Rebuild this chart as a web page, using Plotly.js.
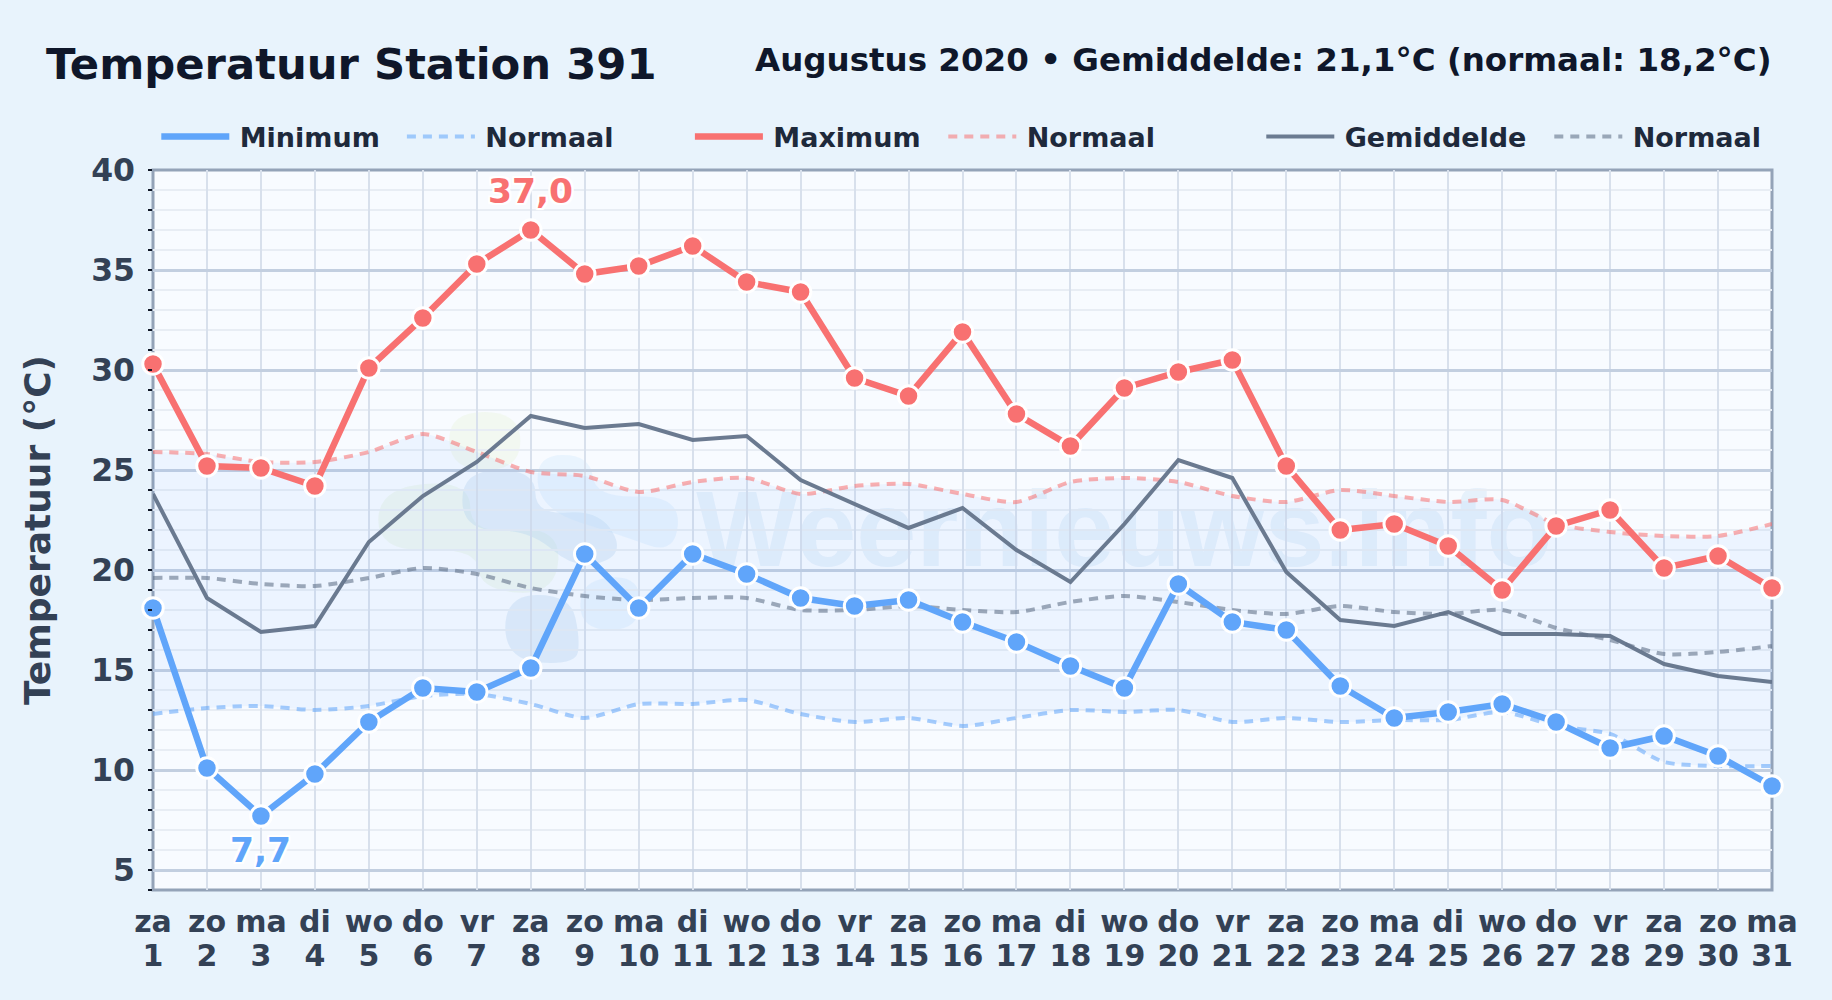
<!DOCTYPE html>
<html>
<head>
<meta charset="utf-8">
<script src="https://cdn.plot.ly/plotly-3.0.1.min.js"></script>
<style>html,body{margin:0;padding:0;background:#e8f3fc}</style>
</head>
<body>
<div id="chart" style="width:1832px;height:1000px"></div>
<script>
const days = [1,2,3,4,5,6,7,8,9,10,11,12,13,14,15,16,17,18,19,20,21,22,23,24,25,26,27,28,29,30,31];
const weekdays = ["za","zo","ma","di","wo","do","vr","za","zo","ma","di","wo","do","vr","za","zo","ma","di","wo","do","vr","za","zo","ma","di","wo","do","vr","za","zo","ma"];
const tempMax = [30.3,25.2,25.1,24.2,30.1,32.6,35.3,37.0,34.8,35.2,36.2,34.4,33.9,29.6,28.7,31.9,27.8,26.2,29.1,29.9,30.5,25.2,22.0,22.3,21.2,19.0,22.2,23.0,20.1,20.7,19.1];
const tempMin = [18.1,10.1,7.7,9.8,12.4,14.1,13.9,15.1,20.8,18.1,20.8,19.8,18.6,18.2,18.5,17.4,16.4,15.2,14.1,19.3,17.4,17.0,14.2,12.6,12.9,13.3,12.4,11.1,11.7,10.7,9.2];
const tempMean = [23.8,18.6,16.9,17.2,21.4,23.7,25.4,27.7,27.1,27.3,26.5,26.7,24.5,23.3,22.1,23.1,21.0,19.4,22.3,25.5,24.6,19.9,17.5,17.2,17.9,16.8,16.8,16.7,15.3,14.7,14.4];
const normMax = [25.9,25.8,25.4,25.4,25.9,26.8,25.9,24.9,24.7,23.9,24.4,24.6,23.8,24.2,24.3,23.8,23.4,24.4,24.6,24.4,23.7,23.4,24.0,23.7,23.4,23.5,22.3,21.9,21.7,21.7,22.3];
const normMean = [19.6,19.6,19.3,19.2,19.6,20.1,19.8,19.1,18.7,18.5,18.6,18.6,18.0,18.0,18.2,18.0,17.9,18.4,18.7,18.4,18.0,17.8,18.2,17.9,17.8,18.0,17.1,16.5,15.8,15.9,16.2];
const normMin = [12.8,13.1,13.2,13.0,13.2,13.7,13.8,13.3,12.6,13.3,13.3,13.5,12.8,12.4,12.6,12.2,12.6,13.0,12.9,13.0,12.4,12.6,12.4,12.5,12.5,12.9,12.2,11.8,10.4,10.2,10.2];
const yTicks = [5,10,15,20,25,30,35,40];
const titleText = "Temperatuur Station 391";
const subtitleText = "Augustus 2020 • Gemiddelde: 21,1°C (normaal: 18,2°C)";
const yTitleText = "Temperatuur (°C)";
const watermarkText = "Weernieuws.info";

const FONT = "DejaVu Sans";
const L = 152.7, T = 170, W = 1619, H = 720;
const px = x => (x - L) / W;
const py = y => (T + H - y) / H;

function blob(points, color) {
  const mids = points.map((p, i) => {
    const q = points[(i + 1) % points.length];
    return [(p[0] + q[0]) / 2, (p[1] + q[1]) / 2];
  });
  let d = "M" + px(mids[mids.length - 1][0]) + "," + py(mids[mids.length - 1][1]);
  points.forEach((p, i) => {
    d += " Q" + px(p[0]) + "," + py(p[1]) + " " + px(mids[i][0]) + "," + py(mids[i][1]);
  });
  return {type: "path", xref: "paper", yref: "paper", path: d + " Z", fillcolor: color, line: {width: 0}, layer: "below"};
}

const green = "rgba(214,236,205,0.28)";
const blueDark = "rgba(190,215,240,0.38)";
const blueLight = "rgba(200,228,252,0.3)";

const shapes = [
  blob([[448,412],[520,412],[520,470],[450,470]], "rgba(226,240,205,0.28)"),
  blob([[378,488],[470,480],[470,535],[560,525],[556,595],[480,590],[476,548],[378,552]], green),
  blob([[462,470],[535,470],[535,515],[600,510],[625,555],[575,570],[530,530],[462,530]], blueDark),
  blob([[535,455],[590,455],[595,498],[680,495],[675,555],[620,535],[540,510]], blueLight),
  blob([[505,595],[570,595],[580,640],[575,665],[505,660]], blueDark),
  blob([[580,580],[640,575],[640,630],[580,630]], blueLight),
  {type: "rect", xref: "paper", yref: "paper", x0: px(700), x1: px(1548), y0: py(583), y1: py(453),
   line: {width: 0}, fillcolor: "rgba(0,0,0,0)", layer: "below",
   label: {text: watermarkText, textposition: "middle center",
           font: {family: "Liberation Sans", size: 108, color: "rgba(170,205,238,0.22)", weight: "bold"}}},
  {type: "rect", xref: "paper", yref: "paper", x0: 0, x1: 1, y0: 0, y1: 1, layer: "between",
   line: {color: "#94a3b8", width: 3}, fillcolor: "rgba(0,0,0,0)"}
];

function lineTrace(name, y, color, width, legend, dash, shape, opacity) {
  return {x: days, y: y, name: "\u2009" + name, type: "scatter", mode: "lines", cliponaxis: false,
          legend: legend, hoverinfo: "skip", opacity: opacity,
          line: {color: color, width: width, dash: dash, shape: shape, smoothing: 0.7}};
}
function markerTrace(y, color) {
  return {x: days, y: y, type: "scatter", mode: "markers", showlegend: false, cliponaxis: false, hoverinfo: "skip",
          marker: {color: color, size: 20.5, line: {color: "#ffffff", width: 3}}};
}

const DASH = "9px,7px";
const traces = [
  {x: days, y: normMax, type: "scatter", mode: "lines", showlegend: false, hoverinfo: "skip",
   line: {width: 0, shape: "spline", smoothing: 0.7}},
  {x: days, y: normMin, type: "scatter", mode: "lines", showlegend: false, hoverinfo: "skip",
   fill: "tonexty", fillcolor: "rgba(96,165,250,0.08)", line: {width: 0, shape: "spline", smoothing: 0.7}},
  lineTrace("Normaal", normMin, "#60a5fa", 4, "legend2", DASH, "spline", 0.55),
  lineTrace("Normaal", normMax, "#f87171", 4, "legend4", DASH, "spline", 0.55),
  lineTrace("Normaal", normMean, "#64748b", 4, "legend6", DASH, "spline", 0.6),
  lineTrace("Gemiddelde", tempMean, "#64748b", 4, "legend5", "solid", "linear", 0.95),
  lineTrace("Maximum", tempMax, "#f87171", 6.5, "legend3", "solid", "linear", 1),
  lineTrace("Minimum", tempMin, "#60a5fa", 6.5, "legend", "solid", "linear", 1),
  markerTrace(tempMax, "#f87171"),
  markerTrace(tempMin, "#60a5fa"),
  {x: days, y: normMean, xaxis: "x2", type: "scatter", mode: "lines", showlegend: false, hoverinfo: "skip",
   opacity: 0, line: {width: 0}}
];

function legendAt(xpx) {
  return {x: px(xpx), y: py(137), xanchor: "left", yanchor: "middle", orientation: "h",
          bgcolor: "rgba(0,0,0,0)", borderwidth: 0, itemwidth: 68,
          font: {family: FONT, size: 27, color: "#1e293b", weight: "bold"}};
}

const iMax = tempMax.indexOf(Math.max(...tempMax));
const iMin = tempMin.indexOf(Math.min(...tempMin));
const halo = "2px 0 1px #fff, -2px 0 1px #fff, 0 2px 1px #fff, 0 -2px 1px #fff, 2px 2px 1px #fff, -2px -2px 1px #fff, 2px -2px 1px #fff, -2px 2px 1px #fff";
const tickFontX = {family: FONT, size: 30, color: "#334155", weight: "bold"};

const layout = {
  width: 1832, height: 1000,
  paper_bgcolor: "#e8f3fc", plot_bgcolor: "#f8fbff",
  margin: {l: L, r: 1832 - L - W, t: T, b: 1000 - T - H, pad: 0},
  font: {family: FONT},
  title: {text: titleText, x: 46 / 1832, xanchor: "left", xref: "container", y: 1 - 64 / 1000, yanchor: "middle",
          font: {family: FONT, size: 43.3, color: "#0f172a", weight: "bold"}},
  xaxis: {range: [1, 31], tickvals: days, ticktext: weekdays,
          tickfont: tickFontX, tickangle: 0,
          showgrid: true, gridcolor: "#d8e0ec", gridwidth: 2, zeroline: false,
          showline: false, ticks: "", ticklabelstandoff: 11},
  xaxis2: {range: [1, 31], overlaying: "x", side: "bottom", anchor: "y", tickvals: days, ticktext: days.map(String),
           tickfont: tickFontX, tickangle: 0, showgrid: false, zeroline: false, showline: false, ticks: "",
           ticklabelstandoff: 45},
  yaxis: {range: [4, 40], tickvals: yTicks,
          tickfont: {family: FONT, size: 31.5, color: "#334155", weight: "bold"},
          showgrid: true, gridcolor: "#c3cfe0", gridwidth: 2.5, zeroline: false,
          showline: false, ticks: "", ticklabelstandoff: 17,
          minor: {dtick: 1, tick0: 0, ticks: "outside", ticklen: 4, tickwidth: 1.5, tickcolor: "#111827",
                  showgrid: true, gridcolor: "#e8edf4", gridwidth: 2},
          title: {text: yTitleText, standoff: 29, font: {family: FONT, size: 36, color: "#334155", weight: "bold"}}},
  legend: legendAt(156), legend2: legendAt(401.6), legend3: legendAt(689.6),
  legend4: legendAt(943), legend5: legendAt(1261), legend6: legendAt(1549),
  shapes: shapes,
  annotations: [
    {xref: "paper", yref: "paper", x: 1, y: py(60), xanchor: "right", yanchor: "middle", showarrow: false, xshift: 2,
     text: subtitleText, font: {family: FONT, size: 32.5, color: "#0f172a", weight: "bold"}},
    {x: days[iMax], y: tempMax[iMax], yshift: 39, showarrow: false, text: tempMax[iMax].toFixed(1).replace(".", ","),
     font: {family: FONT, size: 34.5, color: "#f87171", weight: "bold", shadow: halo}},
    {x: days[iMin], y: tempMin[iMin], yshift: -34, showarrow: false, text: tempMin[iMin].toFixed(1).replace(".", ","),
     font: {family: FONT, size: 34.5, color: "#60a5fa", weight: "bold", shadow: halo}}
  ]
};
Plotly.newPlot("chart", traces, layout, {displayModeBar: false, responsive: false});
</script>
</body>
</html>
